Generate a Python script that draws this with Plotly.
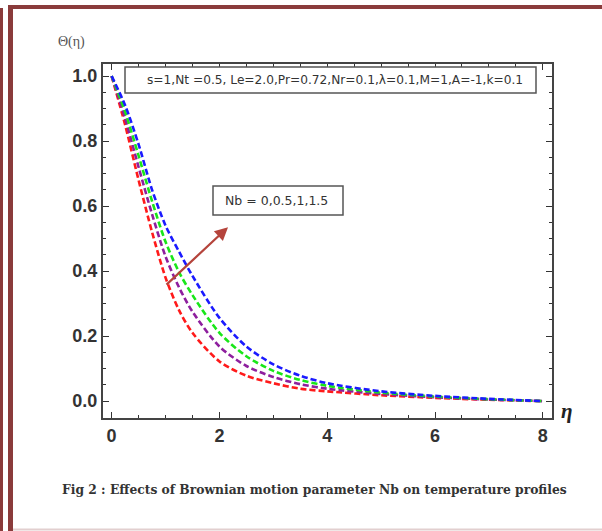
import plotly.graph_objects as go

# ---- data ----
eta = [0, 0.25, 0.5, 0.75, 1.0, 1.25, 1.5, 2.0, 2.5, 3.0, 3.5, 4.0, 5.0, 6.0, 7.0, 8.0]
theta_nb0 = [1.0, 0.85, 0.68, 0.52, 0.38, 0.28, 0.21, 0.122, 0.078, 0.055, 0.038, 0.030, 0.018, 0.010, 0.004, 0.0]
theta_nb05 = [1.0, 0.87, 0.72, 0.575, 0.445, 0.35, 0.275, 0.168, 0.108, 0.074, 0.052, 0.038, 0.022, 0.012, 0.005, 0.0]
theta_nb1 = [1.0, 0.89, 0.755, 0.615, 0.49, 0.397, 0.326, 0.21, 0.138, 0.093, 0.065, 0.047, 0.026, 0.014, 0.006, 0.0]
theta_nb15 = [1.0, 0.91, 0.79, 0.65, 0.54, 0.46, 0.385, 0.256, 0.168, 0.113, 0.078, 0.055, 0.030, 0.016, 0.007, 0.0]
series_names = ["Nb = 0", "Nb = 0.5", "Nb = 1", "Nb = 1.5"]
series_colors = ["#ff1a1a", "#8e1f9e", "#19e619", "#1a1aff"]

x_ticks = [0, 2, 4, 6, 8]
y_ticks = [0.0, 0.2, 0.4, 0.6, 0.8, 1.0]
y_tick_labels = ["0.0", "0.2", "0.4", "0.6", "0.8", "1.0"]

W, H = 602, 531
L, R, T, B = 103, 552, 64, 418

fig = go.Figure()
for ys, name, col in zip([theta_nb0, theta_nb05, theta_nb1, theta_nb15], series_names, series_colors):
    fig.add_trace(go.Scatter(x=eta, y=ys, mode="lines", name=name,
                             line=dict(color=col, width=2.6, dash="6px,3px", shape="spline", smoothing=0.8),
                             showlegend=False))

def px(xp):
    return (xp - L) / (R - L)

def py(yp):
    return (B - yp) / (B - T)

maroon = "#8a3b3b"
shapes = [
    dict(type="line", xref="paper", yref="paper", x0=px(1.5), x1=px(1.5), y0=py(8), y1=py(531), line=dict(color=maroon, width=3)),
    dict(type="line", xref="paper", yref="paper", x0=px(10.5), x1=px(10.5), y0=py(5), y1=py(531), line=dict(color=maroon, width=5)),
    dict(type="line", xref="paper", yref="paper", x0=px(8), x1=px(602), y0=py(7), y1=py(7), line=dict(color=maroon, width=4)),
    dict(type="line", xref="paper", yref="paper", x0=px(13), x1=px(602), y0=py(529.5), y1=py(529.5), line=dict(color="#e2cfcf", width=2)),
    # parameter box
    dict(type="rect", xref="paper", yref="paper", x0=px(125), x1=px(536), y0=py(93), y1=py(67),
         line=dict(color="#555555", width=1.5), fillcolor="white"),
    # Nb box
    dict(type="rect", xref="paper", yref="paper", x0=px(213), x1=px(343), y0=py(215), y1=py(186),
         line=dict(color="#555555", width=1.5), fillcolor="white"),
]

annotations = [
    dict(text="s=1,Nt =0.5, Le=2.0,Pr=0.72,Nr=0.1,λ=0.1,M=1,A=-1,k=0.1", xref="paper", yref="paper",
         x=px(335), y=py(80), xanchor="center", yanchor="middle", showarrow=False,
         font=dict(family="DejaVu Sans", size=12.2, color="#333333")),
    dict(text="Nb = 0,0.5,1,1.5", xref="paper", yref="paper",
         x=px(276), y=py(200.5), xanchor="center", yanchor="middle", showarrow=False,
         font=dict(family="DejaVu Sans", size=12.5, color="#333333")),
    dict(text="Θ(η)", xref="paper", yref="paper", x=px(71), y=py(42), xanchor="center", yanchor="middle", showarrow=False,
         font=dict(family="Liberation Serif", size=14, color="#555555")),
    dict(text="<b><i>η</i></b>", xref="paper", yref="paper", x=px(567), y=py(411), xanchor="center", yanchor="middle",
         showarrow=False, font=dict(family="Liberation Serif", size=21, color="#222222")),
    dict(text="Fig 2 : Effects of Brownian motion parameter Nb on temperature profiles", xref="paper", yref="paper",
         x=px(314), y=py(490), xanchor="center", yanchor="middle", showarrow=False,
         font=dict(family="DejaVu Serif", size=12.3, color="#333333", weight="bold")),
    # arrow
    dict(x=2.16, y=0.535, ax=0.99, ay=0.354, xref="x", yref="y", axref="x", ayref="y",
         text="", showarrow=True, arrowhead=2, arrowsize=1.2, arrowwidth=2.2, arrowcolor="#b5443c"),
]

fig.update_layout(
    width=W, height=H,
    margin=dict(l=L, r=W - R, t=T, b=H - B),
    paper_bgcolor="white", plot_bgcolor="white",
    shapes=shapes, annotations=annotations,
    xaxis=dict(range=[-0.16, 8.17], tickvals=x_ticks, ticks="inside", ticklen=6, tickwidth=1.2,
               tickcolor="#333333", showgrid=False, zeroline=False,
               showline=True, linecolor="#444444", linewidth=2, mirror="ticks",
               minor=dict(dtick=0.5, tick0=0, ticks="inside", ticklen=3, tickcolor="#333333", showgrid=False),
               tickfont=dict(family="Liberation Sans", size=18, color="#333333", weight="bold")),
    yaxis=dict(range=[-0.052, 1.037], tickvals=y_ticks, ticktext=y_tick_labels, ticks="inside", ticklen=6,
               tickwidth=1.2, tickcolor="#333333", showgrid=False, zeroline=False,
               showline=True, linecolor="#444444", linewidth=2, mirror="ticks",
               minor=dict(dtick=0.05, tick0=0, ticks="inside", ticklen=3, tickcolor="#333333", showgrid=False),
               tickfont=dict(family="Liberation Sans", size=18, color="#333333", weight="bold")),
)

fig.write_html("out.html", config={"displayModeBar": False},
               post_script="document.body.style.margin='0px';document.body.style.padding='0px';")
